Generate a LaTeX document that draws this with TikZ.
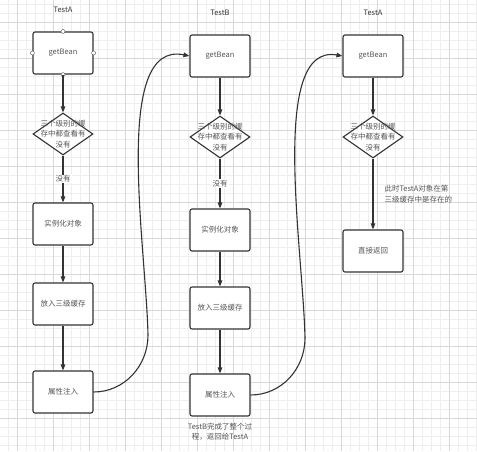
\documentclass[tikz,border=0pt]{standalone}
\usepackage{fontspec}
\newfontfamily\cjk{Noto Sans CJK SC}
\usetikzlibrary{arrows.meta,%
		positioning,%
		shapes.geometric}
\definecolor{gridminor}{HTML}{EEEEEE}
\definecolor{gridmajor}{HTML}{D8D8D8}
\definecolor{ink}{HTML}{333333}
\definecolor{txt}{HTML}{555555}

\begin{document}
\begin{tikzpicture}[x=1pt,y=-1pt,font=\cjk\fontsize{7.5}{10.5}\selectfont,
	box/.style={draw=ink, line width=1.1pt, rounded corners=2pt, fill=white, text=txt,
		minimum width=60pt, minimum height=42pt, inner sep=0pt},
	check/.style={draw=ink, line width=1.1pt, diamond, fill=white, inner sep=0pt,
		minimum width=60pt, minimum height=42pt},
	flow/.style={draw=ink, line width=1.1pt, -{Triangle[length=6pt,width=4.5pt]}},
	lbl/.style={text=txt, align=center, inner sep=1pt},
	handle/.style={draw=txt, fill=white, circle, inner sep=0pt, minimum size=4pt}]

\useasboundingbox (0,0) rectangle (477,451);
\fill[white] (0,0) rectangle (477,451);

% grid
\foreach \x in {8,17,...,477} \draw[gridminor] (\x,0) -- (\x,451);
\foreach \y in {4,13,...,451} \draw[gridminor] (0,\y) -- (477,\y);
\foreach \x in {17,53,...,477} \draw[gridmajor] (\x,0) -- (\x,451);
\foreach \y in {22,58,...,451} \draw[gridmajor] (0,\y) -- (477,\y);

% first TestA
\begin{scope}
\node[text=ink] (tA) at (63,10) {TestA};
\node[box] (gbA) at (63,53) {getBean};
\node[check] (chkA) at (63,134) {};
\node[lbl] at (chkA) {三个级别的缓\\存中都查看有\\没有};
\node[box] (newA) at (63,224) {实例化对象};
\node[box] (cacheA) at (63,304) {放入三级缓存};
\node[box] (injA) at (63,392) {属性注入};
\foreach \a in {north,south,east,west} \node[handle] at (gbA.\a) {};
\draw[flow] (gbA.south) -- (chkA);
\draw[flow] (chkA) -- node[lbl,fill=white]{没有} (newA);
\draw[flow] (newA) -- (cacheA);
\draw[flow] (cacheA) -- (injA);
\end{scope}

% TestB
\begin{scope}
\node[text=ink] (tB) at (220,13) {TestB};
\node[box] (gbB) at (220,56) {getBean};
\node[check] (chkB) at (220,137) {};
\node[lbl] at (chkB) {三个级别的缓\\存中都查看有\\没有};
\node[box] (newB) at (220,230) {实例化对象};
\node[box] (cacheB) at (220,308) {放入三级缓存};
\node[box] (injB) at (220,395) {属性注入};
\node[lbl, below=5pt of injB] (doneB) {TestB完成了整个过\\程，返回给TestA};
\draw[flow] (gbB) -- (chkB);
\draw[flow] (chkB) -- node[lbl,fill=white]{没有} (newB);
\draw[flow] (newB) -- (cacheB);
\draw[flow] (cacheB) -- (injB);
\end{scope}

% second TestA
\begin{scope}
\node[text=ink] (tC) at (373,13) {TestA};
\node[box] (gbC) at (373,56) {getBean};
\node[check] (chkC) at (373,137) {};
\node[lbl] at (chkC) {三个级别的缓\\存中都查看有\\没有};
\node[box] (retC) at (373,251) {直接返回};
\draw[flow] (gbC) -- (chkC);
\draw[flow] (chkC) -- node[lbl, align=left, anchor=west, xshift=10pt]{此时TestA对象在第\\三级缓存中是存在的} (retC);
\end{scope}

% calls
\coordinate (bendA) at (148,335);
\coordinate (bendB) at (305,338);
\draw[flow] (injA.east) to[out=0,in=-90] (bendA)
	.. controls (146,245) and (112,40) .. (gbB.west);
\draw[flow] (injB.east) to[out=0,in=-90] (bendB)
	.. controls (303,248) and (269,43) .. (gbC.west);

\end{tikzpicture}
\end{document}
